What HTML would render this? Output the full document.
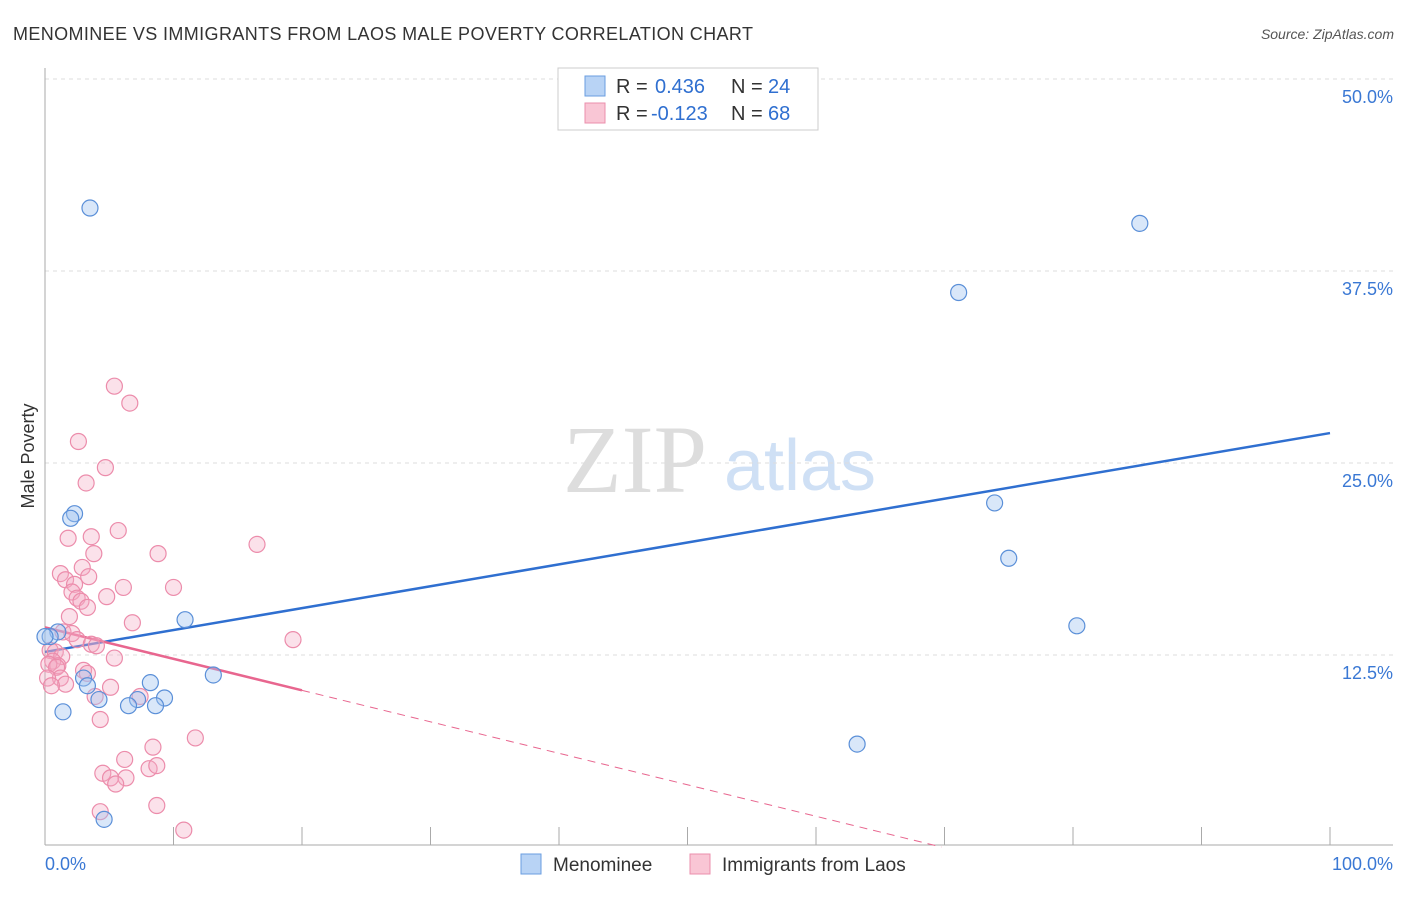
<!DOCTYPE html>
<html><head><meta charset="utf-8"><style>
body{margin:0;background:#fff;font-family:"Liberation Sans",sans-serif;}
svg text{font-family:"Liberation Sans",sans-serif;}
</style></head><body>
<svg id="chart" width="1406" height="892" xmlns="http://www.w3.org/2000/svg">
<text x="13" y="40" font-size="18" fill="#333" textLength="740" lengthAdjust="spacing">MENOMINEE VS IMMIGRANTS FROM LAOS MALE POVERTY CORRELATION CHART</text>
<text x="1394" y="39" font-size="14" fill="#555" text-anchor="end" font-style="italic">Source: ZipAtlas.com</text>
<text x="34" y="456" font-size="18" fill="#333" text-anchor="middle" transform="rotate(-90 34 456)">Male Poverty</text>
<g><text x="635" y="492" font-size="96" fill="#ddd" style="font-family:'Liberation Serif',serif" text-anchor="middle">ZIP</text><text x="800" y="490" font-size="72" fill="#cfe0f5" text-anchor="middle">atlas</text></g>
<g id="grid"></g><g id="axes"></g><g id="lines"></g><g id="pts"></g>
<g>
<rect x="558" y="68" width="260" height="62" fill="#fff" stroke="#ccc"/>
<rect x="585" y="76" width="20" height="20" fill="#b8d3f5" stroke="#6a9ee0"/>
<rect x="585" y="103" width="20" height="20" fill="#f9c6d5" stroke="#eb8fac"/>
<text x="616" y="93" font-size="20" fill="#333">R =</text>
<text x="655" y="93" font-size="20" fill="#2f6fd0">0.436</text>
<text x="731" y="93" font-size="20" fill="#333">N =</text>
<text x="768" y="93" font-size="20" fill="#2f6fd0">24</text>
<text x="616" y="120" font-size="20" fill="#333">R =</text>
<text x="651" y="120" font-size="20" fill="#2f6fd0">-0.123</text>
<text x="731" y="120" font-size="20" fill="#333">N =</text>
<text x="768" y="120" font-size="20" fill="#2f6fd0">68</text>
</g>
<g>
<rect x="521" y="854" width="20" height="20" fill="#b8d3f5" stroke="#6a9ee0"/>
<text x="553" y="871" font-size="19" fill="#333">Menominee</text>
<rect x="690" y="854" width="20" height="20" fill="#f9c6d5" stroke="#eb8fac"/>
<text x="722" y="871" font-size="19" fill="#333">Immigrants from Laos</text>
</g>
</svg>
<script>
const yTicks=[12.5,25,37.5,50];
const yTickLabels=["12.5%","25.0%","37.5%","50.0%"];
const blueX=[3.5,85.2,71.1,73.9,75.0,80.3,63.2,2.3,2.0,10.9,13.1,1.0,0.4,3.0,3.3,8.2,9.3,7.2,6.5,8.6,4.2,1.4,4.6,0];
const blueY=[41.6,40.6,36.1,22.4,18.8,14.4,6.7,21.7,21.4,14.8,11.2,14.0,13.7,11.0,10.5,10.7,9.7,9.6,9.2,9.2,9.6,8.8,1.8,13.7];
const pinkX=[5.4,6.6,2.6,4.7,3.2,5.7,3.6,1.8,16.5,8.8,3.8,2.9,1.2,3.4,1.6,6.1,10.0,2.3,2.1,2.5,2.8,4.8,3.3,1.9,6.8,1.4,2.1,19.3,2.5,3.6,4.0,0.4,0.8,1.3,5.4,0.6,1.0,0.3,3.0,3.3,0.9,1.2,0.2,1.6,0.5,5.1,7.4,3.9,4.3,11.7,8.4,6.2,8.1,8.7,4.5,5.1,6.3,5.5,4.3,8.7,10.8];
const pinkY=[30.0,28.9,26.4,24.7,23.7,20.6,20.2,20.1,19.7,19.1,19.1,18.2,17.8,17.6,17.4,16.9,16.9,17.1,16.6,16.2,16.0,16.3,15.6,15.0,14.6,14.0,13.9,13.5,13.5,13.2,13.1,12.8,12.7,12.4,12.3,12.1,11.8,11.9,11.5,11.3,11.7,11.0,11.0,10.6,10.5,10.4,9.8,9.8,8.3,7.1,6.5,5.7,5.1,5.3,4.8,4.5,4.5,4.1,2.3,2.7,1.1];
const blueTrend=[12.7,26.95];
const pinkTrend=[14.3,-0.205];
const X=v=>45+v*12.85, Y=v=>847-v*15.36;
const NS="http://www.w3.org/2000/svg";
function mk(tag,attrs,parent){const e=document.createElementNS(NS,tag);for(const k in attrs)e.setAttribute(k,attrs[k]);document.getElementById(parent).appendChild(e);return e;}
yTicks.forEach((t,i)=>{
 const g=mk('line',{x1:45,x2:1393,y1:Y(t),y2:Y(t),stroke:'#ddd','stroke-dasharray':'4 4'},'grid');
 
 
 const l=mk('text',{x:1393,y:Y(t)+24,'font-size':18,fill:'#3a78d4','text-anchor':'end'},'axes');l.textContent=yTickLabels[i];
 
 
});
mk('line',{x1:45,x2:45,y1:68,y2:845,stroke:'#aaa'},'axes');
mk('line',{x1:45,x2:1393,y1:845,y2:845,stroke:'#aaa'},'axes');
for(let i=0;i<=10;i++){const t=mk('line',{x1:X(i*10),x2:X(i*10),y1:827,y2:845,stroke:'#aaa'},'axes');
 
 }
const x0=mk('text',{x:45,y:870,'font-size':18,fill:'#3a78d4'},'axes');x0.textContent='0.0%';


const x1=mk('text',{x:1393,y:870,'font-size':18,fill:'#3a78d4','text-anchor':'end'},'axes');x1.textContent='100.0%';


const bl=mk('line',{x1:X(0),y1:Y(blueTrend[0]),x2:X(100),y2:Y(blueTrend[1]),stroke:'#2f6fd0','stroke-width':2.5},'lines');


const pEnd=-pinkTrend[0]/pinkTrend[1];
const pl=mk('line',{x1:X(0),y1:Y(pinkTrend[0]),x2:X(20),y2:Y(pinkTrend[0]+pinkTrend[1]*20),stroke:'#e8668f','stroke-width':2.5},'lines');


const pd=mk('line',{x1:X(20),y1:Y(pinkTrend[0]+pinkTrend[1]*20),x2:X(pEnd),y2:Y(0),stroke:'#e8668f','stroke-width':1,'stroke-dasharray':'8 6'},'lines');


pinkX.forEach((v,i)=>{const c=mk('circle',{cx:X(v),cy:Y(pinkY[i]),r:8,fill:'rgba(244,170,195,0.35)',stroke:'#ec8cab','stroke-width':1.2},'pts');
 
 });
blueX.forEach((v,i)=>{const c=mk('circle',{cx:X(v),cy:Y(blueY[i]),r:8,fill:'rgba(160,195,240,0.4)',stroke:'#5a8fd8','stroke-width':1.2},'pts');
 
 });
</script>
</body></html>
